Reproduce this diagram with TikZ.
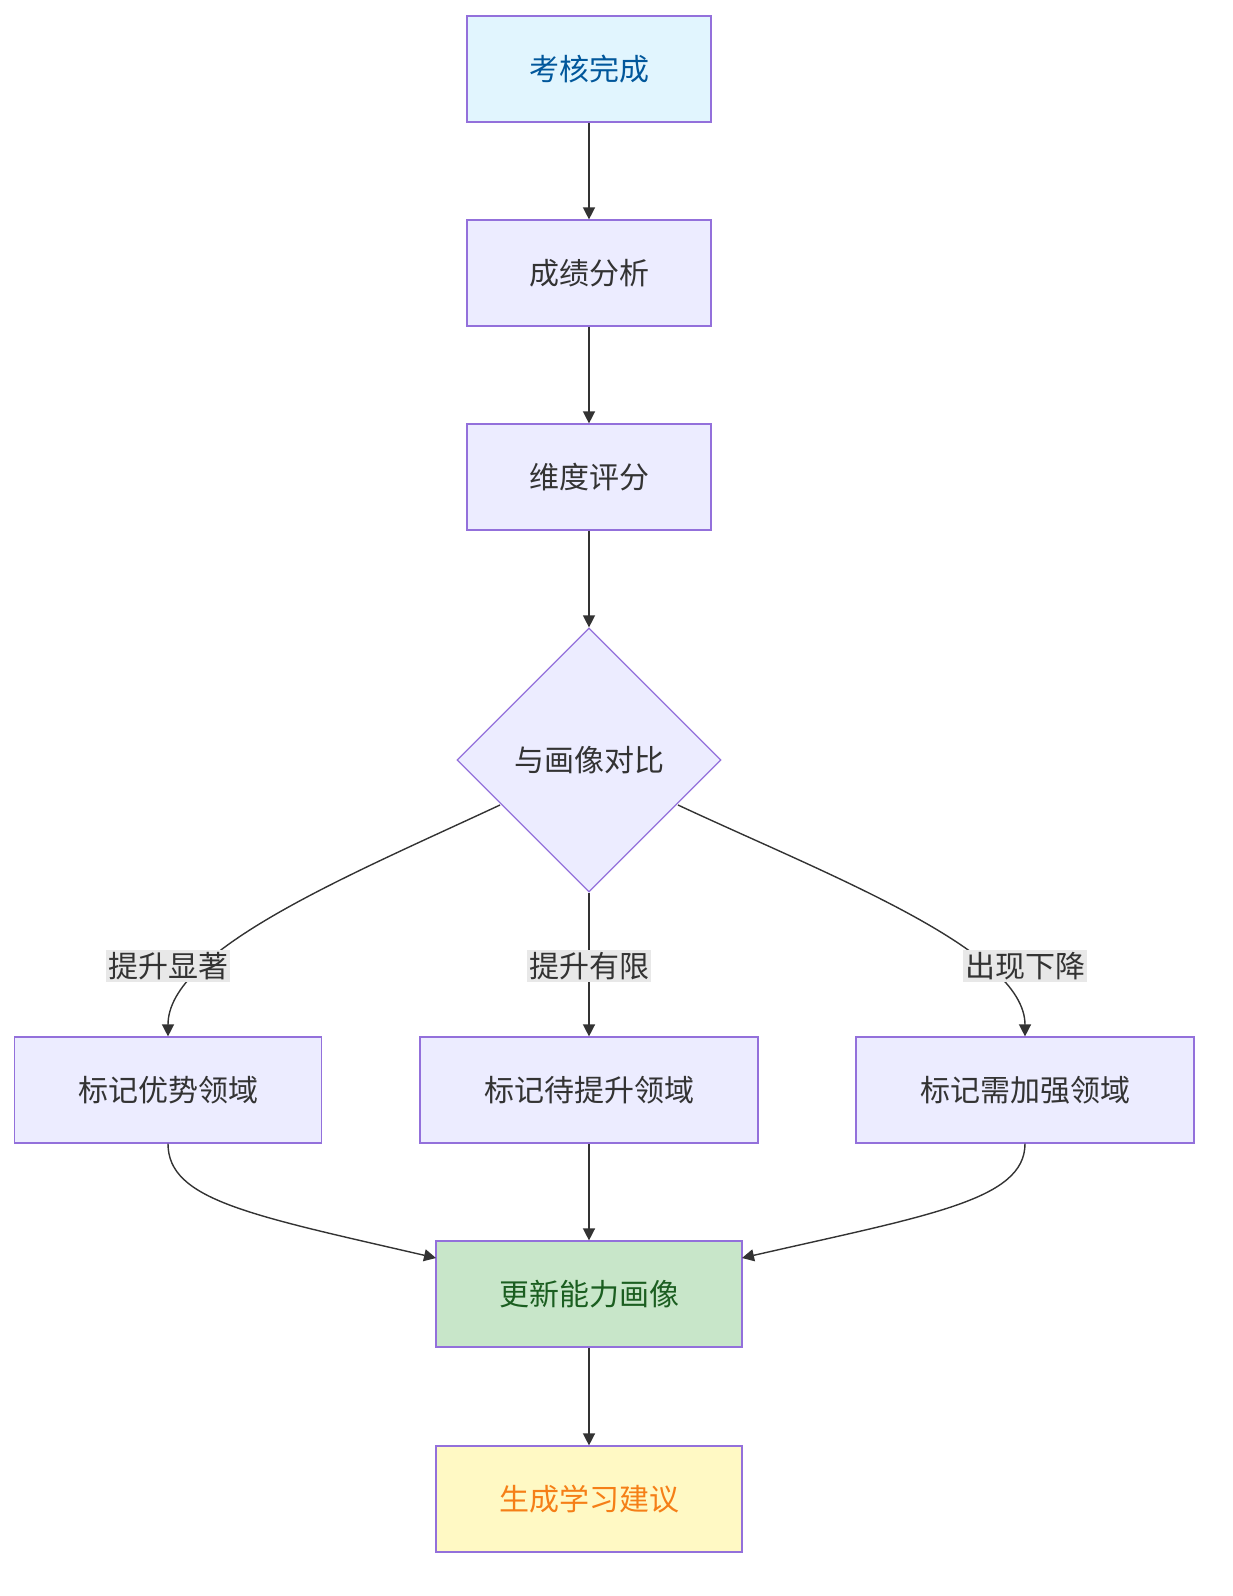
\documentclass[tikz,border=0pt]{standalone}
\usepackage{fontspec}
\setmainfont{Noto Sans CJK SC}
\usetikzlibrary{shapes.geometric,arrows.meta}
\definecolor{boxline}{HTML}{9370DB}
\definecolor{boxfill}{HTML}{ECECFF}
\definecolor{startfill}{HTML}{E1F5FE}
\definecolor{starttext}{HTML}{01579B}
\definecolor{updfill}{HTML}{C8E6C9}
\definecolor{updtext}{HTML}{1B5E20}
\definecolor{sugfill}{HTML}{FFF9C4}
\definecolor{sugtext}{HTML}{F57F17}
\definecolor{linkcol}{HTML}{333333}
\definecolor{lblfill}{HTML}{E8E8E8}
\tikzset{
  stage/.style={draw=boxline, fill=boxfill, line width=0.6pt, minimum height=53pt,
    text=linkcol, font=\fontsize{15}{18}\selectfont},
  choice/.style={diamond, draw=boxline, fill=boxfill, line width=0.6pt, minimum size=132pt,
    inner sep=0pt, text=linkcol, font=\fontsize{15}{18}\selectfont},
  link/.style={draw=linkcol, line width=0.7pt, -{Triangle[length=6pt,width=6pt]}},
  lbl/.style={fill=lblfill, inner sep=1pt, text=linkcol, font=\fontsize{15}{18}\selectfont},
}
\begin{document}
\begin{tikzpicture}[x=0.5pt,y=-0.5pt]
\useasboundingbox (0,0) rectangle (1232,1596);

% main chain
\node[stage, minimum width=122pt, fill=startfill, text=starttext] (done) at (589,69) {考核完成};
\node[stage, minimum width=122pt] (score) at (589,273) {成绩分析};
\node[stage, minimum width=122pt] (dims) at (589,477) {维度评分};
\node[choice] (cmp) at (589,760) {与画像对比};

% marks
\node[stage, minimum width=153.5pt] (strong) at (168,1090) {标记优势领域};
\node[stage, minimum width=169pt] (mid) at (589,1090) {标记待提升领域};
\node[stage, minimum width=169pt] (weak) at (1025,1090) {标记需加强领域};

% results
\node[stage, minimum width=153pt, fill=updfill, text=updtext] (upd) at (589,1294) {更新能力画像};
\node[stage, minimum width=153pt, fill=sugfill, text=sugtext] (sug) at (589,1499) {生成学习建议};

\draw[link] (done) -- (score);
\draw[link] (score) -- (dims);
\draw[link] (dims) -- (cmp);

\coordinate (cl) at (500,805);
\coordinate (cr) at (678,805);
\coordinate (fl) at (436,1258);
\coordinate (fr) at (742,1258);
\draw[link] (cl) .. controls (350,875) and (168,950) .. (strong.north);
\draw[link] (cmp.south) -- (mid.north);
\draw[link] (cr) .. controls (828,875) and (1025,950) .. (weak.north);
\node[lbl] (l1) at (168,966) {提升显著};
\node[lbl] (l2) at (589,966) {提升有限};
\node[lbl] (l3) at (1025,966) {出现下降};

\draw[link] (strong.south) .. controls (168,1200) and (250,1215) .. (fl);
\draw[link] (mid) -- (upd);
\draw[link] (weak.south) .. controls (1025,1200) and (930,1215) .. (fr);
\draw[link] (upd) -- (sug);
\end{tikzpicture}
\end{document}
